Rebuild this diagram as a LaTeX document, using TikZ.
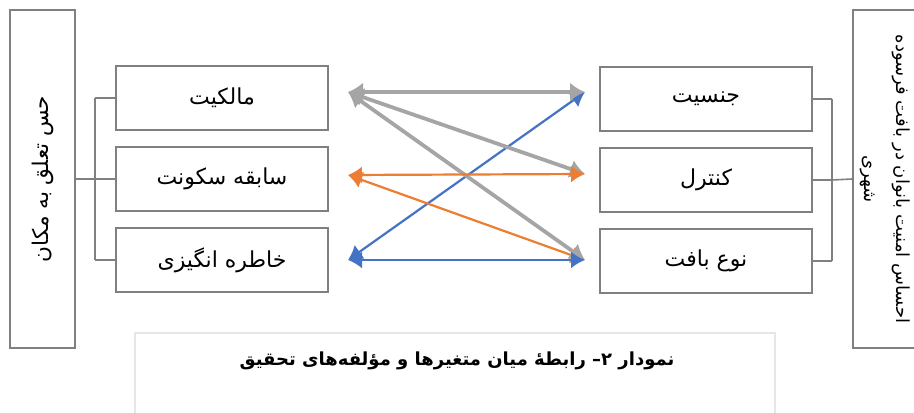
\documentclass[tikz,border=0pt]{standalone}
\usepackage{fontspec}
\newfontfamily\farsi[Script=Arabic]{DejaVu Sans}
\TeXXeTstate=1
\usetikzlibrary{arrows.meta}
\definecolor{linegray}{HTML}{A5A5A5}
\definecolor{lineorange}{HTML}{ED7D31}
\definecolor{lineblue}{HTML}{4472C4}
\definecolor{boxgray}{HTML}{808080}
\definecolor{capgray}{HTML}{E6E6E6}
\newcommand{\rtltext}[1]{\beginR #1\endR}

\begin{document}
\begin{tikzpicture}
  [x=0.5pt,y=-0.5pt,
   box/.style={draw=boxgray,line width=1pt,minimum width=106pt,minimum height=32pt,
     inner sep=0pt,font=\farsi\fontsize{11}{13}\selectfont},
   tallbox/.style={draw=boxgray,line width=1pt,minimum width=169pt,minimum height=32.5pt,
     inner sep=0pt,align=center,font=\farsi\fontsize{9}{16}\selectfont},
   bracket/.style={draw=boxgray,line width=0.8pt},
   link/.style={line width=1.1pt,{Latex[length=7pt,width=8.5pt]}-{Latex[length=7pt,width=8.5pt]}},
   thicklink/.style={link,line width=1.9pt,{Latex[length=7.5pt,width=9.5pt]}-{Latex[length=7.5pt,width=9.5pt]}}
  ]
  \clip (0,0) rectangle (914,412);

  % left side
  \node[tallbox,rotate=90,font=\farsi\fontsize{10.8}{13}\selectfont] (place) at (42.5,179)
    {\rtltext{حس تعلق به مکان}};
  \node[box] (own) at (222,98)  {\rtltext{مالکیت}};
  \node[box] (res) at (222,179) {\rtltext{سابقه سکونت}};
  \node[box] (mem) at (222,260) {\rtltext{خاطره انگیزی}};

  % right side
  \node[tallbox,rotate=-90] (secur) at (885.5,179)
    {\rtltext{احساس امنیت بانوان در بافت فرسوده}\\\rtltext{شهری}};
  \node[box] (gen) at (706,99)  {\rtltext{جنسیت}};
  \node[box] (ctl) at (706,180) {\rtltext{کنترل}};
  \node[box] (tex) at (706,261) {\rtltext{نوع بافت}};

  % brackets
  \coordinate (jl) at (95,179);
  \coordinate (jr) at (832,180);
  \draw[bracket] (place.south) -- (jl);
  \draw[bracket] (jl |- own.west) -- (jl |- mem.west);
  \foreach \n in {own,res,mem}
    \draw[bracket] (jl |- \n.west) -- (\n.west);
  \draw[bracket] (secur.south) -- (jr);
  \draw[bracket] (jr |- gen.east) -- (jr |- tex.east);
  \foreach \n in {gen,ctl,tex}
    \draw[bracket] (jr |- \n.east) -- (\n.east);

  % arrow ends
  \coordinate (a1) at (348,92);
  \coordinate (a2) at (348,175);
  \coordinate (a3) at (348,260);
  \coordinate (b1) at (585,92);
  \coordinate (b2) at (585,174);
  \coordinate (b3) at (585,260);

  \draw[link,lineblue] (a3) -- (b1);
  \draw[link,lineorange] (a2) -- (b3);
  \draw[thicklink,linegray] (a1) -- (b2);
  \draw[thicklink,linegray] (a1) -- (b3);
  \draw[thicklink,linegray] (a1) -- (b1);
  \draw[link,lineorange] (a2) -- (b2);
  \draw[link,lineblue] (a3) -- (b3);

  % caption
  \draw[capgray,line width=1pt] (135,416) |- (775,333) -- (775,416);
  \node[font=\farsi\bfseries\fontsize{9}{12}\selectfont] (cap) at (457,361)
    {\rtltext{نمودار ۲– رابطهٔ میان متغیرها و مؤلفه‌های تحقیق}};
\end{tikzpicture}
\end{document}
